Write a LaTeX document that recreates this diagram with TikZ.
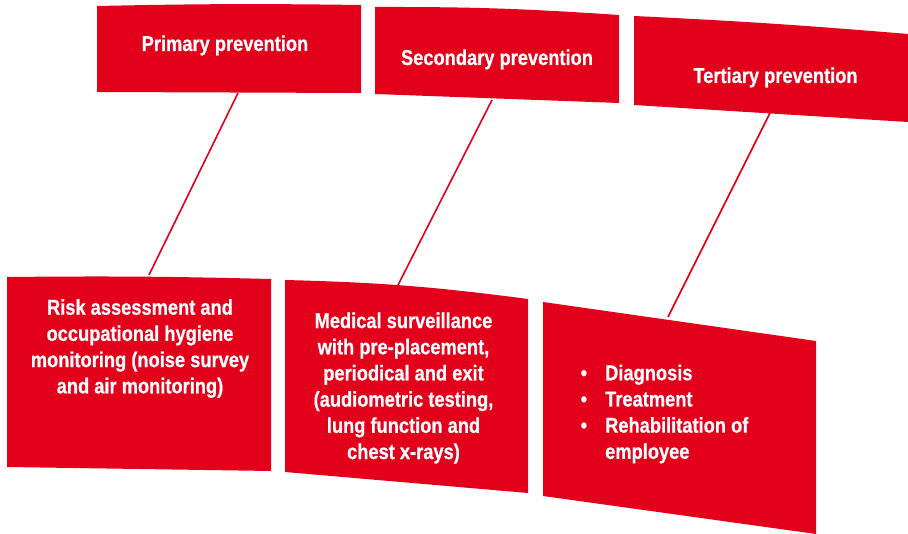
\documentclass[tikz,border=0pt]{standalone}
\usepackage{fontspec}
\setmainfont{Liberation Sans}[FakeStretch=0.85,BoldFeatures={FakeBold=0.6}]
\definecolor{brandred}{RGB}{226,0,26}

\begin{document}
\begin{tikzpicture}[x=1pt,y=-1pt,
  panel/.style={fill=brandred,draw=none},
  label/.style={text=white,font=\bfseries\fontsize{21.5}{26.2}\selectfont,align=center,inner sep=0pt},
  link/.style={draw=brandred,line width=1.6pt}]
\useasboundingbox (0,0) rectangle (908,534);

% upper panels: the three levels of prevention
\path[panel] (97,6) to[bend left=1] (361,5) -- (361,93) -- (97,92) -- cycle;
\path[panel] (375,7) to[bend left=2] (619,15) -- (619,103) -- (375,94) -- cycle;
\path[panel] (634,16) to[bend left=1] (908,34) -- (908,122) -- (634,105) -- cycle;

% lower panels: the measures taken at each level
\path[panel] (7,277) to[bend left=1] (271,279) -- (271,471) -- (7,467) -- cycle;
\path[panel] (285,280) to[bend left=3] (528,299) -- (528,493) -- (285,472) -- cycle;
\path[panel] (543,302) -- (816,341) -- (816,534) -- (543,496) -- cycle;

% headings
\node[label,anchor=base] (h1) at (225,51) {Primary prevention};
\node[label,anchor=base] (h2) at (497,65) {Secondary prevention};
\node[label,anchor=base] (h3) at (775.5,83) {Tertiary prevention};

% panel texts
\node[label] (b1) at (140,348.5) {Risk assessment and\\occupational hygiene\\monitoring (noise survey\\and air monitoring)};
\node[label] (b2) at (403.5,388) {Medical surveillance\\with pre-placement,\\periodical and exit\\(audiometric testing,\\lung function and\\chest x-rays)};
\node[label,align=left,anchor=west] (b3) at (580.5,414)
  {\makebox[24.5pt][l]{\textbullet}Diagnosis\\
   \makebox[24.5pt][l]{\textbullet}Treatment\\
   \makebox[24.5pt][l]{\textbullet}Rehabilitation of\\
   \hspace*{24.5pt}employee};

% connectors between each heading panel and its measures panel
\coordinate (t1) at (238,93);
\coordinate (u1) at (149,275);
\coordinate (t2) at (492,100);
\coordinate (u2) at (397,287);
\coordinate (t3) at (770,113);
\coordinate (u3) at (668,317);
\draw[link] (t1) -- (u1);
\draw[link] (t2) -- (u2);
\draw[link] (t3) -- (u3);
\end{tikzpicture}
\end{document}
